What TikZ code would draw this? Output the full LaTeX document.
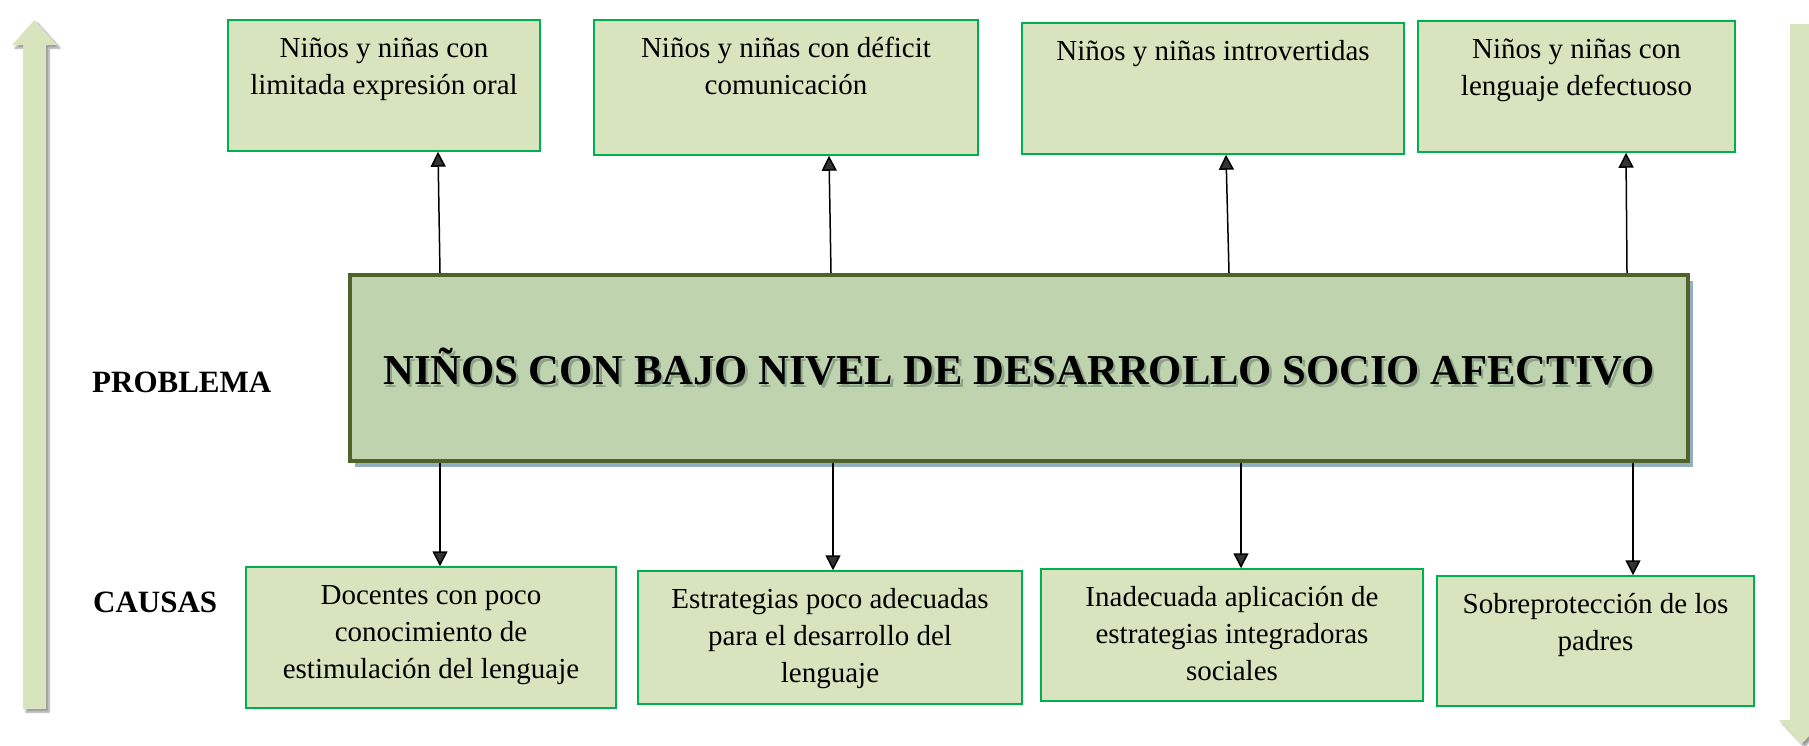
\documentclass[tikz,border=0pt]{standalone}
\usepackage{fontspec}
\setmainfont{Liberation Serif}
\usetikzlibrary{arrows.meta,shadows,shadows.blur}
\definecolor{cajaverde}{HTML}{D7E4BD}
\definecolor{bordeverde}{HTML}{00B050}
\definecolor{problemafill}{HTML}{BFD3AF}
\definecolor{problemaborde}{HTML}{4F6228}
\definecolor{sombraazul}{HTML}{94AFC0}
\definecolor{sombratexto}{HTML}{8CA489}
\newcommand{\textocaja}[3]{\parbox[c][#1][t]{#2}{\centering\rule{0pt}{37pt}#3}}
\newcommand{\sombreado}[1]{\rlap{\kern2.5pt\raisebox{-3.5pt}{\color{sombratexto}#1}}#1}

\begin{document}
\begin{tikzpicture}[x=1pt,y=-1pt]
        \tikzstyle{every node}=[font=\fontsize{29}{37}\selectfont]
        \tikzstyle{caja}=[draw=bordeverde, fill=cajaverde, line width=1.5pt, inner sep=0pt]
        \tikzstyle{etiqueta}=[font=\fontsize{31}{37}\selectfont\bfseries, anchor=base west, inner sep=0pt]
        \tikzstyle{flecha}=[line width=1.5pt, -{Triangle[length=15pt,width=15pt]}]
        \tikzstyle{flechalarga}=[fill=cajaverde, blur shadow={shadow xshift=3pt, shadow yshift=-3pt, shadow blur steps=6}]
        \useasboundingbox (0,0) rectangle (1809,745);
        \fill[flechalarga] (23,709) -- (23,45) -- (12,45) -- (34.5,20) -- (57,45) -- (46,45) -- (46,709) -- cycle;
        \fill[flechalarga] (1790,24) -- (1790,720) -- (1779,720) -- (1801.5,744) -- (1824,720) -- (1813,720) -- (1813,24) -- cycle;
        \node[draw=problemaborde, fill=problemafill, line width=4pt, minimum width=1338pt, minimum height=186pt, inner sep=0pt,
              drop shadow={shadow xshift=5pt, shadow yshift=-6pt, fill=sombraazul, opacity=1},
              font=\fontsize{42.6}{50}\selectfont\bfseries] (prob) at (1019,368) {\sombreado{NIÑOS CON BAJO NIVEL DE DESARROLLO SOCIO AFECTIVO}};
        \node[etiqueta] (problema) at (92,392) {PROBLEMA};
        \node[etiqueta] (causas) at (93,612) {CAUSAS};
        \node[caja] (e1) at (384,85.5) {\textocaja{131pt}{312pt}{Niños y niñas con\\ limitada expresión oral}};
        \node[caja] (e2) at (786,87.5) {\textocaja{135pt}{384pt}{Niños y niñas con déficit\\ comunicación}};
        \node[caja] (e3) at (1213,88.5) {\textocaja{131pt}{382pt}{Niños y niñas introvertidas}};
        \node[caja] (e4) at (1576.5,86.5) {\textocaja{131pt}{317pt}{Niños y niñas con\\ lenguaje defectuoso}};
        \node[caja] (c1) at (431,637.5) {\textocaja{141pt}{370pt}{Docentes con poco\\ conocimiento de\\ estimulación del lenguaje}};
        \node[caja] (c2) at (830,637.5) {\textocaja{133pt}{384pt}{Estrategias poco adecuadas\\ para el desarrollo del\\ lenguaje}};
        \node[caja] (c3) at (1232,635) {\textocaja{132pt}{382pt}{Inadecuada aplicación de\\ estrategias integradoras\\ sociales}};
        \node[caja] (c4) at (1595.5,641) {\textocaja{130pt}{317pt}{Sobreprotección de los\\ padres}};
        \draw[flecha] (prob.north -| 440,0) -- (e1.south -| 438,0);
        \draw[flecha] (prob.north -| 831,0) -- (e2.south -| 829,0);
        \draw[flecha] (prob.north -| 1229,0) -- (e3.south -| 1226,0);
        \draw[flecha] (prob.north -| 1627,0) -- (e4.south -| 1626,0);
        \draw[flecha] (prob.south -| 440,0) -- (c1.north -| 440,0);
        \draw[flecha] (prob.south -| 833,0) -- (c2.north -| 833,0);
        \draw[flecha] (prob.south -| 1241,0) -- (c3.north -| 1241,0);
        \draw[flecha] (prob.south -| 1633,0) -- (c4.north -| 1633,0);
    \end{tikzpicture}
\end{document}
